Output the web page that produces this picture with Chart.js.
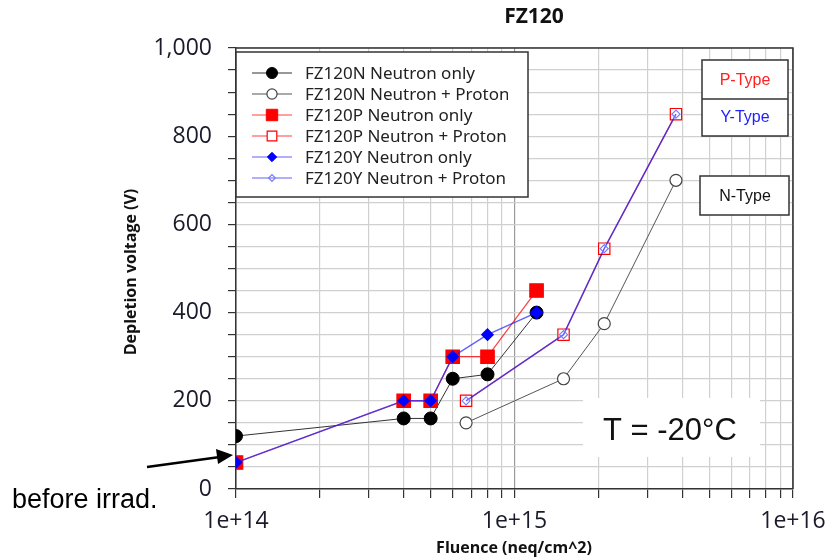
<!DOCTYPE html>
<html lang="en">
<head>
    <meta charset="UTF-8">
    <title>FZ120</title>
    <script src="https://cdn.jsdelivr.net/npm/chart.js"></script>
    <style>
        body { margin: 0; background: #fff; }
        canvas { display: block; }
    </style>
</head>
<body>
    <canvas id="fzChart" width="833" height="560"></canvas>
    <script>
        // fluence points (neq/cm^2)
        const fluenceNeutron = [1e14, 4e14, 5e14, 6e14, 8e14, 1.2e15];
        const fluenceProton = [6.7e14, 1.5e15, 2.1e15, 3.8e15];

        // depletion voltage (V)
        const vNNeutron = [120, 160, 160, 250, 260, 400];
        const vNProton = [150, 250, 375, 700];
        const vPNeutron = [60, 200, 200, 300, 300, 450];
        const vPProton = [200, 350, 545, 850];
        const vYNeutron = [60, 200, 200, 300, 350, 400];
        const vYProton = [200, 350, 545, 850];

        const seriesNames = [
            'FZ120N Neutron only', 'FZ120N Neutron + Proton',
            'FZ120P Neutron only', 'FZ120P Neutron + Proton',
            'FZ120Y Neutron only', 'FZ120Y Neutron + Proton'
        ];
        const decadeLabels = ['1e+14', '1e+15', '1e+16'];
        const yLabelTicks = [0, 200, 400, 600, 800, 1000];

        const pts = (xs, ys) => xs.map((x, i) => ({ x: x, y: ys[i] }));

        const redLine = 'rgba(255,0,0,0.75)';
        const blueLine = 'rgba(30,30,255,0.7)';

        const datasets = [
            { label: seriesNames[0], data: pts(fluenceNeutron, vNNeutron), borderColor: '#333', borderWidth: 1,
              pointStyle: 'circle', pointRadius: 6.5, pointBackgroundColor: '#000', pointBorderColor: '#000', order: 3 },
            { label: seriesNames[1], data: pts(fluenceProton, vNProton), borderColor: '#555', borderWidth: 1,
              pointStyle: 'circle', pointRadius: 6, pointBackgroundColor: '#fff', pointBorderColor: '#444', pointBorderWidth: 1.2, order: 3 },
            { label: seriesNames[2], data: pts(fluenceNeutron, vPNeutron), borderColor: redLine, borderWidth: 1.2,
              pointStyle: 'rect', pointRadius: 9.5, pointBackgroundColor: '#ff0000', pointBorderColor: '#ff0000', order: 2 },
            { label: seriesNames[3], data: pts(fluenceProton, vPProton), borderColor: redLine, borderWidth: 1.2,
              pointStyle: 'rect', pointRadius: 8, pointBackgroundColor: '#fff', pointBorderColor: '#ff0000', pointBorderWidth: 1.2, order: 2 },
            { label: seriesNames[4], data: pts(fluenceNeutron, vYNeutron), borderColor: blueLine, borderWidth: 1.5,
              pointStyle: 'rectRot', pointRadius: 5.5, pointBackgroundColor: '#0000ff', pointBorderColor: '#0000ff', order: 1 },
            { label: seriesNames[5], data: pts(fluenceProton, vYProton), borderColor: blueLine, borderWidth: 1.5,
              pointStyle: 'rectRot', pointRadius: 4, pointBackgroundColor: 'rgba(0,0,0,0)', pointBorderColor: '#7a7aff', pointBorderWidth: 1.2, order: 1 }
        ];

        const isDecade = v => Math.abs(Math.log10(v) - Math.round(Math.log10(v))) < 1e-6;

        // markers for the legend box
        function marker(ctx, ds, x, y, scale) {
            const r = ds.pointRadius * scale;
            ctx.save();
            ctx.fillStyle = ds.pointBackgroundColor;
            ctx.strokeStyle = ds.pointBorderColor;
            ctx.lineWidth = ds.pointBorderWidth || 1;
            ctx.beginPath();
            if (ds.pointStyle === 'circle') {
                ctx.arc(x, y, r, 0, Math.PI * 2);
            } else if (ds.pointStyle === 'rect') {
                const s = r * Math.SQRT1_2;
                ctx.rect(x - s, y - s, 2 * s, 2 * s);
            } else {
                ctx.moveTo(x - r, y); ctx.lineTo(x, y - r); ctx.lineTo(x + r, y); ctx.lineTo(x, y + r); ctx.closePath();
            }
            ctx.fill();
            ctx.stroke();
            ctx.restore();
        }

        const extras = {
            id: 'extras',
            afterDraw(chart) {
                const ctx = chart.ctx;
                const a = chart.chartArea;
                ctx.save();

                // frame on top and right
                ctx.strokeStyle = '#333';
                ctx.lineWidth = 1.5;
                ctx.beginPath();
                ctx.moveTo(a.left, a.top); ctx.lineTo(a.right, a.top); ctx.lineTo(a.right, a.bottom);
                ctx.stroke();

                // title and axis titles
                ctx.fillStyle = '#111';
                ctx.textAlign = 'center';
                ctx.textBaseline = 'middle';
                ctx.font = 'bold 21px "Open Sans"';
                ctx.fillText('FZ120', 534, 17);
                ctx.font = 'bold 16px "Open Sans"';
                ctx.fillText('Fluence (neq/cm^2)', 514, 548);
                ctx.save();
                ctx.translate(131, 272);
                ctx.rotate(-Math.PI / 2);
                ctx.fillText('Depletion voltage (V)', 0, 0);
                ctx.restore();

                // legend box
                const lx = 236, ly = 52, lw = 292, lh = 145;
                ctx.fillStyle = '#fff';
                ctx.fillRect(lx, ly, lw, lh);
                ctx.strokeStyle = '#333';
                ctx.lineWidth = 1.5;
                ctx.strokeRect(lx, ly, lw, lh);
                ctx.save();
                ctx.beginPath();
                ctx.rect(lx, ly, 508 - lx, lh);
                ctx.clip();
                chart.data.datasets.forEach((ds, i) => {
                    const y = 73 + i * 21;
                    ctx.strokeStyle = ds.borderColor;
                    ctx.lineWidth = 1.2;
                    ctx.beginPath();
                    ctx.moveTo(252, y); ctx.lineTo(292, y);
                    ctx.stroke();
                    marker(ctx, ds, 272, y, 0.85);
                    ctx.fillStyle = '#222';
                    ctx.textAlign = 'left';
                    ctx.font = '17px "Noto Sans"';
                    ctx.fillText(ds.label, 305, y + 1);
                });
                ctx.restore();

                // type boxes
                ctx.fillStyle = '#fff';
                ctx.fillRect(702, 60, 86, 76);
                ctx.fillRect(700, 176, 89, 39);
                ctx.strokeStyle = '#333';
                ctx.lineWidth = 1.5;
                ctx.strokeRect(702, 60, 86, 76);
                ctx.beginPath(); ctx.moveTo(702, 99); ctx.lineTo(788, 99); ctx.stroke();
                ctx.strokeRect(700, 176, 89, 39);
                ctx.textAlign = 'center';
                ctx.font = '16px "Liberation Sans"';
                ctx.fillStyle = '#ff2020';
                ctx.fillText('P-Type', 745, 81);
                ctx.fillStyle = '#2020ff';
                ctx.fillText('Y-Type', 745, 118);
                ctx.fillStyle = '#111';
                ctx.fillText('N-Type', 745, 197);

                // temperature note
                ctx.fillStyle = '#fff';
                ctx.fillRect(583, 398, 177, 59);
                ctx.fillStyle = '#111';
                ctx.textAlign = 'left';
                ctx.font = '31px "Liberation Sans"';
                ctx.fillText('T = -20\u00B0C', 603, 431);

                // before irrad. arrow
                ctx.strokeStyle = '#000';
                ctx.lineWidth = 2.5;
                ctx.beginPath();
                ctx.moveTo(147, 467); ctx.lineTo(220, 457);
                ctx.stroke();
                ctx.fillStyle = '#000';
                ctx.beginPath();
                ctx.moveTo(233, 455); ctx.lineTo(216, 449); ctx.lineTo(218, 464); ctx.closePath();
                ctx.fill();
                ctx.font = '27px "Liberation Sans"';
                ctx.textAlign = 'left';
                ctx.fillText('before irrad.', 12, 501);

                ctx.restore();
            }
        };

        new Chart(document.getElementById('fzChart'), {
            type: 'line',
            data: { datasets: datasets },
            options: {
                responsive: false,
                animation: false,
                layout: { padding: { top: 48, right: 40, left: 0, bottom: 0 } },
                plugins: { legend: { display: false }, tooltip: { enabled: false } },
                scales: {
                    x: {
                        type: 'logarithmic',
                        min: 1e14,
                        max: 1e16,
                        afterBuildTicks(scale) {
                            const t = [];
                            for (let e = 14; e < 16; e++) {
                                for (let m = 1; m < 10; m++) t.push({ value: m * Math.pow(10, e) });
                            }
                            t.push({ value: 1e16 });
                            scale.ticks = t;
                        },
                        afterFit(scale) {
                            scale.height = 71;
                            scale.paddingRight = 0;
                        },
                        ticks: {
                            autoSkip: false,
                            maxRotation: 0,
                            padding: 10,
                            color: '#1a1a2a',
                            font: { family: '"Open Sans"', size: 23 },
                            callback: v => isDecade(v) ? decadeLabels[Math.round(Math.log10(v)) - 14] : ''
                        },
                        grid: {
                            color: c => (c.tick && isDecade(c.tick.value)) ? '#9a9a9a' : '#d0d0d0',
                            tickColor: '#333',
                            tickLength: 9,
                            lineWidth: 1.2
                        },
                        border: { color: '#333', width: 1.5 }
                    },
                    y: {
                        min: 0,
                        max: 1000,
                        afterFit(scale) { scale.width = 236; },
                        ticks: {
                            stepSize: 50,
                            autoSkip: false,
                            padding: 16,
                            color: '#1a1a2a',
                            font: { family: '"Open Sans"', size: 23 },
                            callback: v => yLabelTicks.includes(v) ? v.toLocaleString('en-US') : ''
                        },
                        grid: {
                            color: '#d0d0d0',
                            tickColor: '#333',
                            tickLength: 8,
                            lineWidth: 1.2
                        },
                        border: { color: '#333', width: 1.5 }
                    }
                }
            },
            plugins: [extras]
        });
    </script>
</body>
</html>
